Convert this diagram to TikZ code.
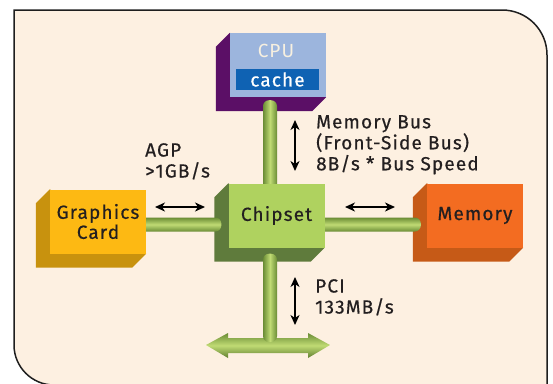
\documentclass[tikz,border=0pt]{standalone}
\usepackage{fontspec}
\setmainfont{Fira Sans}
\newfontfamily\medfont{Fira Sans}[LetterSpace=6, FakeBold=0.5]
\newfontfamily\regfont{Fira Sans}[LetterSpace=5]
\usetikzlibrary{arrows.meta,calc}
\definecolor{bg}{HTML}{FDF0E1}
\definecolor{frame}{HTML}{1E1E1E}
\definecolor{txt}{HTML}{231F20}
\definecolor{cpuF}{HTML}{9CB5DD}
\definecolor{cpuS}{HTML}{5B0F66}
\definecolor{cacheC}{HTML}{0F62B3}
\definecolor{cpuT}{HTML}{F7F0E0}
\definecolor{gfxF}{HTML}{FDB913}
\definecolor{gfxS}{HTML}{C8920E}
\definecolor{chipF}{HTML}{AFD25F}
\definecolor{chipS}{HTML}{5F7B3C}
\definecolor{memF}{HTML}{F36C21}
\definecolor{memS}{HTML}{C65A17}
\definecolor{pD}{HTML}{6A8C35}
\definecolor{pL}{HTML}{C0DB74}
\pgfdeclarelayer{bgl}
\pgfdeclarelayer{shadow}
\pgfdeclarelayer{pipe}
\pgfsetlayers{bgl,shadow,pipe,main}
\tikzset{
  face/.style={inner sep=0pt, minimum width=96pt, minimum height=64pt, align=center,
    text=txt, font=\medfont\fontsize{19}{20}\selectfont},
  lbl/.style={inner sep=0pt, align=left, text=txt, font=\medfont\fontsize{19}{21}\selectfont},
  pipeV/.style={left color=pD, right color=pD, middle color=pL, rounded corners=6pt},
  pipeH/.style={top color=pD, bottom color=pD, middle color=pL, rounded corners=6pt},
  busarrow/.style={top color=pD, bottom color=pD!90!black, middle color=pL},
  dbl/.style={line width=1.8pt, {Stealth[length=10pt,width=9pt,inset=3pt]}-{Stealth[length=10pt,width=9pt,inset=3pt]}},
}
\begin{document}
\begin{tikzpicture}[x=1pt,y=-1pt]
\useasboundingbox (0,0) rectangle (553,383);
\begin{pgfonlayer}{bgl}
\draw[fill=bg, draw=frame, line width=1.5pt]
  (14,10) -- (502,10) .. controls (527,10) and (547,30) .. (547,55)
  -- (547,395) -- (54,395) -- (54,385) .. controls (32,385) and (14,367) .. (14,345) -- cycle;
\end{pgfonlayer}

% front faces
\node[face, fill=cpuF] (cpu) at (278,65) {};
\node[inner sep=0pt, text=cpuT, font=\regfont\fontsize{19}{19}\selectfont] (cpulbl) at (276,51) {CPU};
\node[inner sep=0pt, minimum width=83pt, minimum height=21pt, fill=cacheC, text=white,
  font=\medfont\fontsize{19}{19}\selectfont] (cache) at (277.5,79.5) {cache};
\node[face, fill=gfxF] (gfx) at (98,221.5) {Graphics\\Card};
\node[face, fill=chipF] (chip) at (276.5,215.5) {Chipset};
\node[face, fill=memF] (mem) at (475,215.5) {Memory};

% extrusions
\begin{pgfonlayer}{shadow}
\foreach \n/\c in {cpu/cpuS, gfx/gfxS, chip/chipS, mem/memS}{
  \fill[\c] (\n.north west) -- ++(-14,14) |- ($(\n.south east)+(-14,14)$) -- (\n.south east) -- cycle;
}
\end{pgfonlayer}

% pipes
\coordinate (hub) at ($(chip.center)+(-6.5,9)$);
\coordinate (pciL) at (206,345);
\coordinate (pciR) at (330,345);
\begin{pgfonlayer}{pipe}
\shade[pipeV] ($(hub|-cpu.south)+(-7,3)$) rectangle ($(hub|-chip.north)+(7,8)$);
\shade[pipeH] ($(gfx.east|-hub)+(-6,-7)$) rectangle ($(chip.west|-hub)+(-7,7)$);
\shade[pipeH] ($(chip.east|-hub)+(-6,-7)$) rectangle ($(mem.west|-hub)+(-6,7)$);
\shade[busarrow] (pciL) -- ++(22,-12) -- ++(0,5) -- ($(pciR)+(-22,-7)$) -- ++(0,-5) -- (pciR)
  -- ++(-22,13) -- ++(0,-5) -- ($(pciL)+(22,8)$) -- ++(0,5) -- cycle;
\shade[pipeV] ($(hub|-chip.south)+(-7,6)$) rectangle ($(hub|-pciL)+(7,-3)$);
\end{pgfonlayer}

% labels
\node[lbl, anchor=north west] (agp) at (145,143) {AGP\\>1GB/s};
\node[lbl, anchor=north west] (fsb) at (316,115) {Memory Bus\\(Front-Side Bus)\\8B/s * Bus Speed};
\node[lbl, anchor=north west] (pci) at (315,279) {PCI\\133MB/s};

% indicator arrows
\coordinate (a1) at (155,207); \coordinate (a2) at (205,207);
\coordinate (b1) at (345,207); \coordinate (b2) at (395,207);
\coordinate (c1) at (295,120); \coordinate (c2) at (295,171);
\coordinate (d1) at (295,277); \coordinate (d2) at (295,325);
\draw[dbl] (a1) -- (a2);
\draw[dbl] (b1) -- (b2);
\draw[dbl] (c1) -- (c2);
\draw[dbl] (d1) -- (d2);
\end{tikzpicture}
\end{document}
